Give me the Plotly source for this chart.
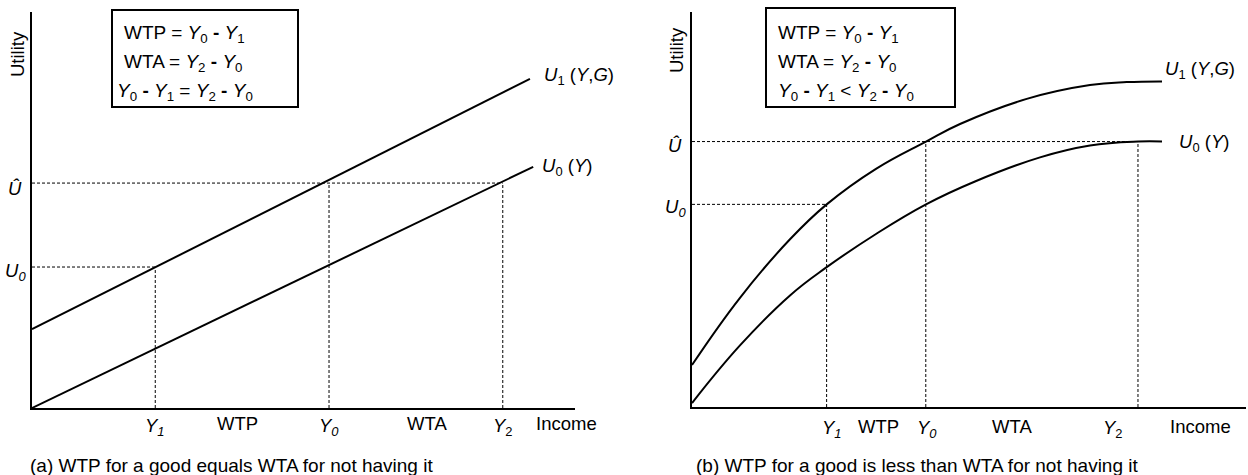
import plotly.graph_objects as go

W, H = 1248, 475
FONT = "Liberation Sans, Arial, sans-serif"

# ---------------- Panel (a) data ----------------
a_income_marks = [2.27, 5.47, 8.67]          # Y1, Y0, Y2
a_income_labels = ["<i>Y</i><sub><i>1</i></sub>", "<i>Y</i><sub><i>0</i></sub>", "<i>Y</i><sub>2</sub>"]
a_utility_marks = [3.56, 5.68]               # U0, U-hat
a_utility_labels = ["<i>U</i><sub><i>0</i></sub>", "<i>Û</i>"]
a_u1_x = [0, 9.17]
a_u1_y = [1.99, 8.31]
a_u0_x = [0, 9.23]
a_u0_y = [0, 6.09]
a_gap_labels = ["WTP", "WTA", "Income"]
a_gap_x = [3.78, 7.27, 9.85]

# ---------------- Panel (b) data ----------------
b_income_marks = [2.43, 4.22, 8.05]          # Y1, Y0, Y2
b_income_label_x = [2.53, 4.24, 7.60]
b_income_labels = ["<i>Y</i><sub><i>1</i></sub>", "<i>Y</i><sub><i>0</i></sub>", "<i>Y</i><sub>2</sub>"]
b_utility_marks = [5.13, 6.72]               # U0, U-hat
b_utility_labels = ["<i>U</i><sub><i>0</i></sub>", "<i>Û</i>"]
b_u1_x = [0, 0.866, 1.769, 2.431, 3.321, 4.224, 4.838, 6.042, 7.184, 7.847, 8.484]
b_u1_y = [1.063, 2.765, 4.246, 5.13, 6.03, 6.72, 7.165, 7.80, 8.15, 8.226, 8.243]
b_u0_x = [0, 0.866, 1.769, 2.431, 3.321, 4.224, 5.108, 6.282, 7.184, 8.051, 8.484]
b_u0_y = [0.10, 1.56, 2.825, 3.54, 4.38, 5.13, 5.71, 6.32, 6.62, 6.72, 6.72]
b_gap_labels = ["WTP", "WTA", "Income"]
b_gap_x = [3.36, 5.78, 9.17]

curve_label_u1 = "<i>U</i><sub>1</sub> (<i>Y</i>,<i>G</i>)"
curve_label_u0 = "<i>U</i><sub>0</sub> (<i>Y</i>)"

box_a = ["WTP = <i>Y</i><sub>0</sub> <b>-</b> <i>Y</i><sub>1</sub>",
         "WTA = <i>Y</i><sub>2</sub> <b>-</b> <i>Y</i><sub>0</sub>",
         "<i>Y</i><sub>0</sub> <b>-</b> <i>Y</i><sub>1</sub> = <i>Y</i><sub>2</sub> <b>-</b> <i>Y</i><sub>0</sub>"]
box_b = ["WTP = <i>Y</i><sub>0</sub> <b>-</b> <i>Y</i><sub>1</sub>",
         "WTA = <i>Y</i><sub>2</sub> <b>-</b> <i>Y</i><sub>0</sub>",
         "<i>Y</i><sub>0</sub> <b>-</b> <i>Y</i><sub>1</sub> &lt; <i>Y</i><sub>2</sub> <b>-</b> <i>Y</i><sub>0</sub>"]
captions = ["(a) WTP for a good equals WTA for not having it",
            "(b) WTP for a good is less than WTA for not having it"]


def px(x):
    return x / W


def py(y):
    return 1 - y / H


fig = go.Figure()
DASH = "3px,2px"


def add_panel(xa, ya, u1x, u1y, u0x, u0y, inc, ut, smooth):
    shape = "spline" if smooth else "linear"
    for cx, cy in ((u1x, u1y), (u0x, u0y)):
        fig.add_trace(go.Scatter(x=cx, y=cy, mode="lines", xaxis=xa, yaxis=ya,
                                 line=dict(color="black", width=2, shape=shape, smoothing=1.2),
                                 hoverinfo="skip", showlegend=False))
    y1, y0, y2 = inc
    u0, uh = ut
    segs = [([0, y1], [u0, u0]), ([0, y2], [uh, uh]),
            ([y1, y1], [0, u0]), ([y0, y0], [0, uh]), ([y2, y2], [0, uh])]
    for sx, sy in segs:
        fig.add_trace(go.Scatter(x=sx, y=sy, mode="lines", xaxis=xa, yaxis=ya,
                                 line=dict(color="black", width=1, dash=DASH),
                                 hoverinfo="skip", showlegend=False))


add_panel("x", "y", a_u1_x, a_u1_y, a_u0_x, a_u0_y, a_income_marks, a_utility_marks, False)
add_panel("x2", "y2", b_u1_x, b_u1_y, b_u0_x, b_u0_y, b_income_marks, b_utility_marks, True)

ax_common = dict(range=[0, 10], showgrid=False, zeroline=False, showticklabels=False,
                 ticks="", showline=True, linecolor="black", linewidth=2, fixedrange=True)

fig.update_layout(
    width=W, height=H,
    margin=dict(l=0, r=0, t=0, b=0),
    paper_bgcolor="white", plot_bgcolor="white",
    font=dict(family=FONT, size=18.5, color="black"),
    xaxis=dict(domain=[px(32), px(575)], anchor="y", **ax_common),
    yaxis=dict(domain=[py(408), py(12)], anchor="x", **ax_common),
    xaxis2=dict(domain=[px(692), px(1246)], anchor="y2", **ax_common),
    yaxis2=dict(domain=[py(407), py(12)], anchor="x2", **ax_common),
)

ann = []
FS = 18.5
FB = 19

# panel (a) income labels
for x, t in zip(a_income_marks, a_income_labels):
    ann.append(dict(x=x, y=0, xref="x", yref="y", text=t, showarrow=False,
                    xanchor="center", yanchor="middle", yshift=-19, font=dict(size=FS)))
for x, t in zip(a_gap_x, a_gap_labels):
    ann.append(dict(x=x, y=0, xref="x", yref="y", text=t, showarrow=False,
                    xanchor="center", yanchor="middle", yshift=-15, font=dict(size=FS)))
for yv, t in zip(a_utility_marks, a_utility_labels):
    ann.append(dict(x=px(15), y=yv, xref="paper", yref="y", text=t, showarrow=False,
                    xanchor="center", yanchor="middle", yshift=-5, font=dict(size=FS)))

# panel (b)
for x, t in zip(b_income_label_x, b_income_labels):
    ann.append(dict(x=x, y=0, xref="x2", yref="y2", text=t, showarrow=False,
                    xanchor="center", yanchor="middle", yshift=-22, font=dict(size=FS)))
for x, t in zip(b_gap_x, b_gap_labels):
    ann.append(dict(x=x, y=0, xref="x2", yref="y2", text=t, showarrow=False,
                    xanchor="center", yanchor="middle", yshift=-19, font=dict(size=FS)))
for yv, t in zip(b_utility_marks, b_utility_labels):
    ann.append(dict(x=px(675), y=yv, xref="paper", yref="y2", text=t, showarrow=False,
                    xanchor="center", yanchor="middle", yshift=-4, font=dict(size=FS)))

# curve labels
ann.append(dict(x=9.39, y=8.38, xref="x", yref="y", text=curve_label_u1, showarrow=False,
                xanchor="left", yanchor="middle", font=dict(size=FS)))
ann.append(dict(x=9.36, y=6.09, xref="x", yref="y", text=curve_label_u0, showarrow=False,
                xanchor="left", yanchor="middle", font=dict(size=FS)))
ann.append(dict(x=8.50, y=8.53, xref="x2", yref="y2", text=curve_label_u1, showarrow=False,
                xanchor="left", yanchor="middle", font=dict(size=FS)))
ann.append(dict(x=8.75, y=6.68, xref="x2", yref="y2", text=curve_label_u0, showarrow=False,
                xanchor="left", yanchor="middle", font=dict(size=FS)))

# Utility axis titles
for xp, yp in ((17, 54), (676, 50)):
    ann.append(dict(x=px(xp), y=py(yp), xref="paper", yref="paper", text="Utility",
                    textangle=-90, showarrow=False, xanchor="center", yanchor="middle",
                    font=dict(size=FS)))

# boxes
rows_y = [34, 63, 92]
for i, t in enumerate(box_a):
    ann.append(dict(x=px(122 if i < 2 else 115), y=py(rows_y[i]), xref="paper", yref="paper",
                    text=t, showarrow=False, xanchor="left", yanchor="middle", font=dict(size=FB)))
for i, t in enumerate(box_b):
    ann.append(dict(x=px(776), y=py(rows_y[i]), xref="paper", yref="paper",
                    text=t, showarrow=False, xanchor="left", yanchor="middle", font=dict(size=FB)))

# captions
ann.append(dict(x=px(28), y=py(465), xref="paper", yref="paper", text=captions[0],
                showarrow=False, xanchor="left", yanchor="middle", font=dict(size=FB)))
ann.append(dict(x=px(694), y=py(465), xref="paper", yref="paper", text=captions[1],
                showarrow=False, xanchor="left", yanchor="middle", font=dict(size=FB)))

shapes = [
    dict(type="rect", xref="paper", yref="paper", x0=px(112), x1=px(298), y0=py(107), y1=py(10),
         line=dict(color="black", width=2)),
    dict(type="rect", xref="paper", yref="paper", x0=px(766), x1=px(955), y0=py(107), y1=py(8),
         line=dict(color="black", width=2)),
]

fig.update_layout(annotations=ann, shapes=shapes)
fig.write_html("out.html", config={"displayModeBar": False},
               post_script="document.body.style.margin='0px';")
